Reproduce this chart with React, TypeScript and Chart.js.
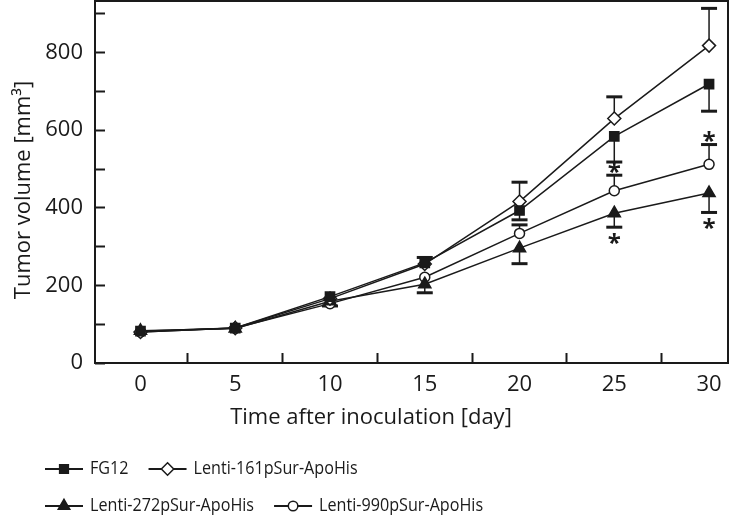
import React, { useEffect, useRef } from "react";
import { Chart, registerables } from "chart.js";

Chart.register(...registerables);

// ---- data ----
const days = [0, 5, 10, 15, 20, 25, 30];
const seriesNames = ["FG12", "Lenti-161pSur-ApoHis", "Lenti-272pSur-ApoHis", "Lenti-990pSur-ApoHis"];

const fg12 = [82, 90, 171, 258, 393, 584, 719];
const lenti161 = [80, 90, 166, 255, 416, 630, 818];
const lenti272 = [83, 89, 159, 203, 296, 386, 438];
const lenti990 = [80, 90, 153, 221, 334, 444, 512];

const fg12ErrUp = [0, 0, 0, 14, 0, 0, 0];
const fg12ErrDown = [0, 0, 0, 0, 24, 66, 70];
const lenti161ErrUp = [0, 0, 0, 0, 50, 56, 96];
const lenti161ErrDown = [0, 0, 0, 0, 0, 0, 0];
const lenti272ErrUp = [0, 0, 0, 0, 0, 0, 0];
const lenti272ErrDown = [0, 0, 12, 22, 40, 36, 50];
const lenti990ErrUp = [0, 0, 0, 0, 22, 40, 51];
const lenti990ErrDown = [0, 0, 0, 0, 0, 0, 0];

// significance marks (asterisks) beyond the error bar cap
const fg12Sig = [false, false, false, false, false, false, false];
const lenti161Sig = [false, false, false, false, false, false, false];
const lenti272Sig = [false, false, false, false, false, true, true];
const lenti990Sig = [false, false, false, false, false, true, true];

const xTickValues = [0, 2.5, 5, 7.5, 10, 12.5, 15, 17.5, 20, 22.5, 25, 27.5, 30];
const yTickValues = [0, 100, 200, 300, 400, 500, 600, 700, 800, 900];

const xTitle = "Time after inoculation [day]";
const yTitle = "Tumor volume [mm³]";

const FONT = "'Open Sans', 'Noto Sans', sans-serif";
const INK = "#1a1a1a";

const seriesValues = [fg12, lenti161, lenti272, lenti990];
const seriesErrUp = [fg12ErrUp, lenti161ErrUp, lenti272ErrUp, lenti990ErrUp];
const seriesErrDown = [fg12ErrDown, lenti161ErrDown, lenti272ErrDown, lenti990ErrDown];
const seriesSig = [fg12Sig, lenti161Sig, lenti272Sig, lenti990Sig];
const seriesStyle = ["rect", "rectRot", "triangle", "circle"];
const seriesFill = [INK, "#ffffff", INK, "#ffffff"];
const seriesRadius = [6.5, 6.5, 7, 5];

function drawMarker(ctx: CanvasRenderingContext2D, style: string, x: number, y: number, r: number, fill: string) {
  ctx.save();
  ctx.beginPath();
  if (style === "rect") {
    const s = r * Math.SQRT1_2;
    ctx.rect(x - s, y - s, 2 * s, 2 * s);
  } else if (style === "rectRot") {
    ctx.moveTo(x, y - r);
    ctx.lineTo(x + r, y);
    ctx.lineTo(x, y + r);
    ctx.lineTo(x - r, y);
    ctx.closePath();
  } else if (style === "triangle") {
    for (let k = 0; k < 3; k++) {
      const a = (k * 2 * Math.PI) / 3;
      const px = x + Math.sin(a) * r;
      const py = y - Math.cos(a) * r;
      if (k === 0) ctx.moveTo(px, py);
      else ctx.lineTo(px, py);
    }
    ctx.closePath();
  } else {
    ctx.arc(x, y, r, 0, Math.PI * 2);
  }
  ctx.fillStyle = fill;
  ctx.fill();
  ctx.lineWidth = 1.5;
  ctx.strokeStyle = INK;
  ctx.stroke();
  ctx.restore();
}

const decorPlugin = {
  id: "decor",
  beforeDatasetsDraw(chart: any) {
    const ctx: CanvasRenderingContext2D = chart.ctx;
    const yScale = chart.scales.y;
    ctx.save();
    ctx.strokeStyle = INK;
    chart.data.datasets.forEach((ds: any, i: number) => {
      const meta = chart.getDatasetMeta(i);
      const up = seriesErrUp[i];
      const down = seriesErrDown[i];
      meta.data.forEach((pt: any, j: number) => {
        const v = seriesValues[i][j];
        const ends: number[] = [];
        if (up[j] > 0) ends.push(v + up[j]);
        if (down[j] > 0) ends.push(v - down[j]);
        ends.forEach((e) => {
          const ye = yScale.getPixelForValue(e);
          ctx.lineWidth = 1.5;
          ctx.beginPath();
          ctx.moveTo(pt.x, pt.y);
          ctx.lineTo(pt.x, ye);
          ctx.stroke();
          ctx.lineWidth = 3;
          ctx.beginPath();
          ctx.moveTo(pt.x - 8, ye);
          ctx.lineTo(pt.x + 8, ye);
          ctx.stroke();
        });
      });
    });
    ctx.restore();
  },
  afterDraw(chart: any) {
    const ctx: CanvasRenderingContext2D = chart.ctx;
    const a = chart.chartArea;
    const yScale = chart.scales.y;
    ctx.save();
    // frame
    ctx.strokeStyle = INK;
    ctx.lineWidth = 2;
    ctx.strokeRect(a.left, a.top, a.right - a.left, a.bottom - a.top);

    // asterisks
    ctx.fillStyle = INK;
    ctx.font = `bold 24px ${FONT}`;
    ctx.textAlign = "center";
    ctx.textBaseline = "alphabetic";
    const m = ctx.measureText("*");
    const midOff = (m.actualBoundingBoxAscent - m.actualBoundingBoxDescent) / 2;
    chart.data.datasets.forEach((ds: any, i: number) => {
      const meta = chart.getDatasetMeta(i);
      meta.data.forEach((pt: any, j: number) => {
        if (!seriesSig[i][j]) return;
        const v = seriesValues[i][j];
        if (seriesErrUp[i][j] > 0) {
          const ye = yScale.getPixelForValue(v + seriesErrUp[i][j]);
          ctx.fillText("*", pt.x, ye - 8 + midOff);
        } else {
          const ye = yScale.getPixelForValue(v - seriesErrDown[i][j]);
          ctx.fillText("*", pt.x, ye + 11 + midOff);
        }
      });
    });

    // axis titles
    ctx.font = `22px ${FONT}`;
    ctx.textAlign = "center";
    ctx.textBaseline = "middle";
    ctx.fillText(xTitle, 371, 418);
    ctx.save();
    ctx.translate(24, 190);
    ctx.rotate(-Math.PI / 2);
    ctx.fillText(yTitle, 0, 0);
    ctx.restore();

    // legend (slightly condensed text)
    const rows = [[0, 1], [2, 3]];
    const rowY = [469, 506];
    const squeeze = 0.85;
    ctx.font = `19px ${FONT}`;
    ctx.textAlign = "left";
    rows.forEach((row, r) => {
      let x = 45;
      const y = rowY[r];
      row.forEach((i) => {
        const ds = chart.data.datasets[i];
        ctx.strokeStyle = INK;
        ctx.lineWidth = 2;
        ctx.beginPath();
        ctx.moveTo(x, y);
        ctx.lineTo(x + 38, y);
        ctx.stroke();
        drawMarker(ctx, seriesStyle[i], x + 19, y, seriesRadius[i] * 0.95, seriesFill[i]);
        x += 45;
        ctx.fillStyle = INK;
        ctx.save();
        ctx.translate(x, y);
        ctx.scale(squeeze, 1);
        ctx.fillText(ds.label, 0, 0);
        ctx.restore();
        x += ctx.measureText(ds.label).width * squeeze + 20;
      });
    });
    ctx.restore();
  },
};

export default function App() {
  const ref = useRef<HTMLCanvasElement | null>(null);

  useEffect(() => {
    if (!ref.current) return;
    const datasets = seriesNames.map((name, i) => ({
      label: name,
      data: days.map((d, j) => ({ x: d, y: seriesValues[i][j] })),
      borderColor: INK,
      borderWidth: 1.5,
      backgroundColor: seriesFill[i],
      pointStyle: seriesStyle[i],
      pointRadius: seriesRadius[i],
      pointBackgroundColor: seriesFill[i],
      pointBorderColor: INK,
      pointBorderWidth: 1.5,
      tension: 0,
      fill: false,
    }));

    const chart = new Chart(ref.current, {
      type: "line",
      data: { datasets },
      options: {
        responsive: false,
        animation: false,
        events: [],
        layout: { autoPadding: false, padding: { top: 1, right: 3, left: 0, bottom: 0 } },
        plugins: { legend: { display: false }, tooltip: { enabled: false } },
        scales: {
          x: {
            type: "linear",
            min: -2.4,
            max: 31,
            afterBuildTicks: (s: any) => {
              s.ticks = xTickValues.map((v) => ({ value: v }));
            },
            afterFit: (s: any) => {
              s.height = 165;
              s.paddingLeft = 0;
              s.paddingRight = 0;
              s.paddingTop = 0;
              s.paddingBottom = 0;
            },
            border: { display: false },
            grid: {
              drawOnChartArea: false,
              drawTicks: true,
              tickLength: -10,
              tickWidth: 2,
              tickColor: (c: any) =>
                c.tick && c.tick.value % 5 === 0 ? "rgba(0,0,0,0)" : INK,
            },
            ticks: {
              autoSkip: false,
              maxRotation: 0,
              padding: 19,
              color: INK,
              font: { family: FONT, size: 22 },
              callback: (v: any) => (Number(v) % 5 === 0 ? String(v) : ""),
            },
          },
          y: {
            type: "linear",
            min: 0,
            max: 933,
            afterBuildTicks: (s: any) => {
              s.ticks = yTickValues.map((v) => ({ value: v }));
            },
            afterFit: (s: any) => {
              s.width = 95;
              s.paddingLeft = 0;
              s.paddingRight = 0;
              s.paddingTop = 0;
              s.paddingBottom = 0;
            },
            border: { display: false },
            grid: {
              drawOnChartArea: false,
              drawTicks: true,
              tickLength: -10,
              tickWidth: 2,
              tickColor: INK,
            },
            ticks: {
              autoSkip: false,
              padding: 22,
              color: INK,
              font: { family: FONT, size: 22 },
              callback: (v: any) => (Number(v) % 200 === 0 ? String(v) : ""),
            },
          },
        },
      },
      plugins: [decorPlugin],
    } as any);

    return () => chart.destroy();
  }, []);

  return (
    <div style={{ position: "fixed", left: 0, top: 0, width: 731, height: 528, background: "#fff" }}>
      <canvas ref={ref} width={731} height={528} style={{ display: "block" }} />
    </div>
  );
}
